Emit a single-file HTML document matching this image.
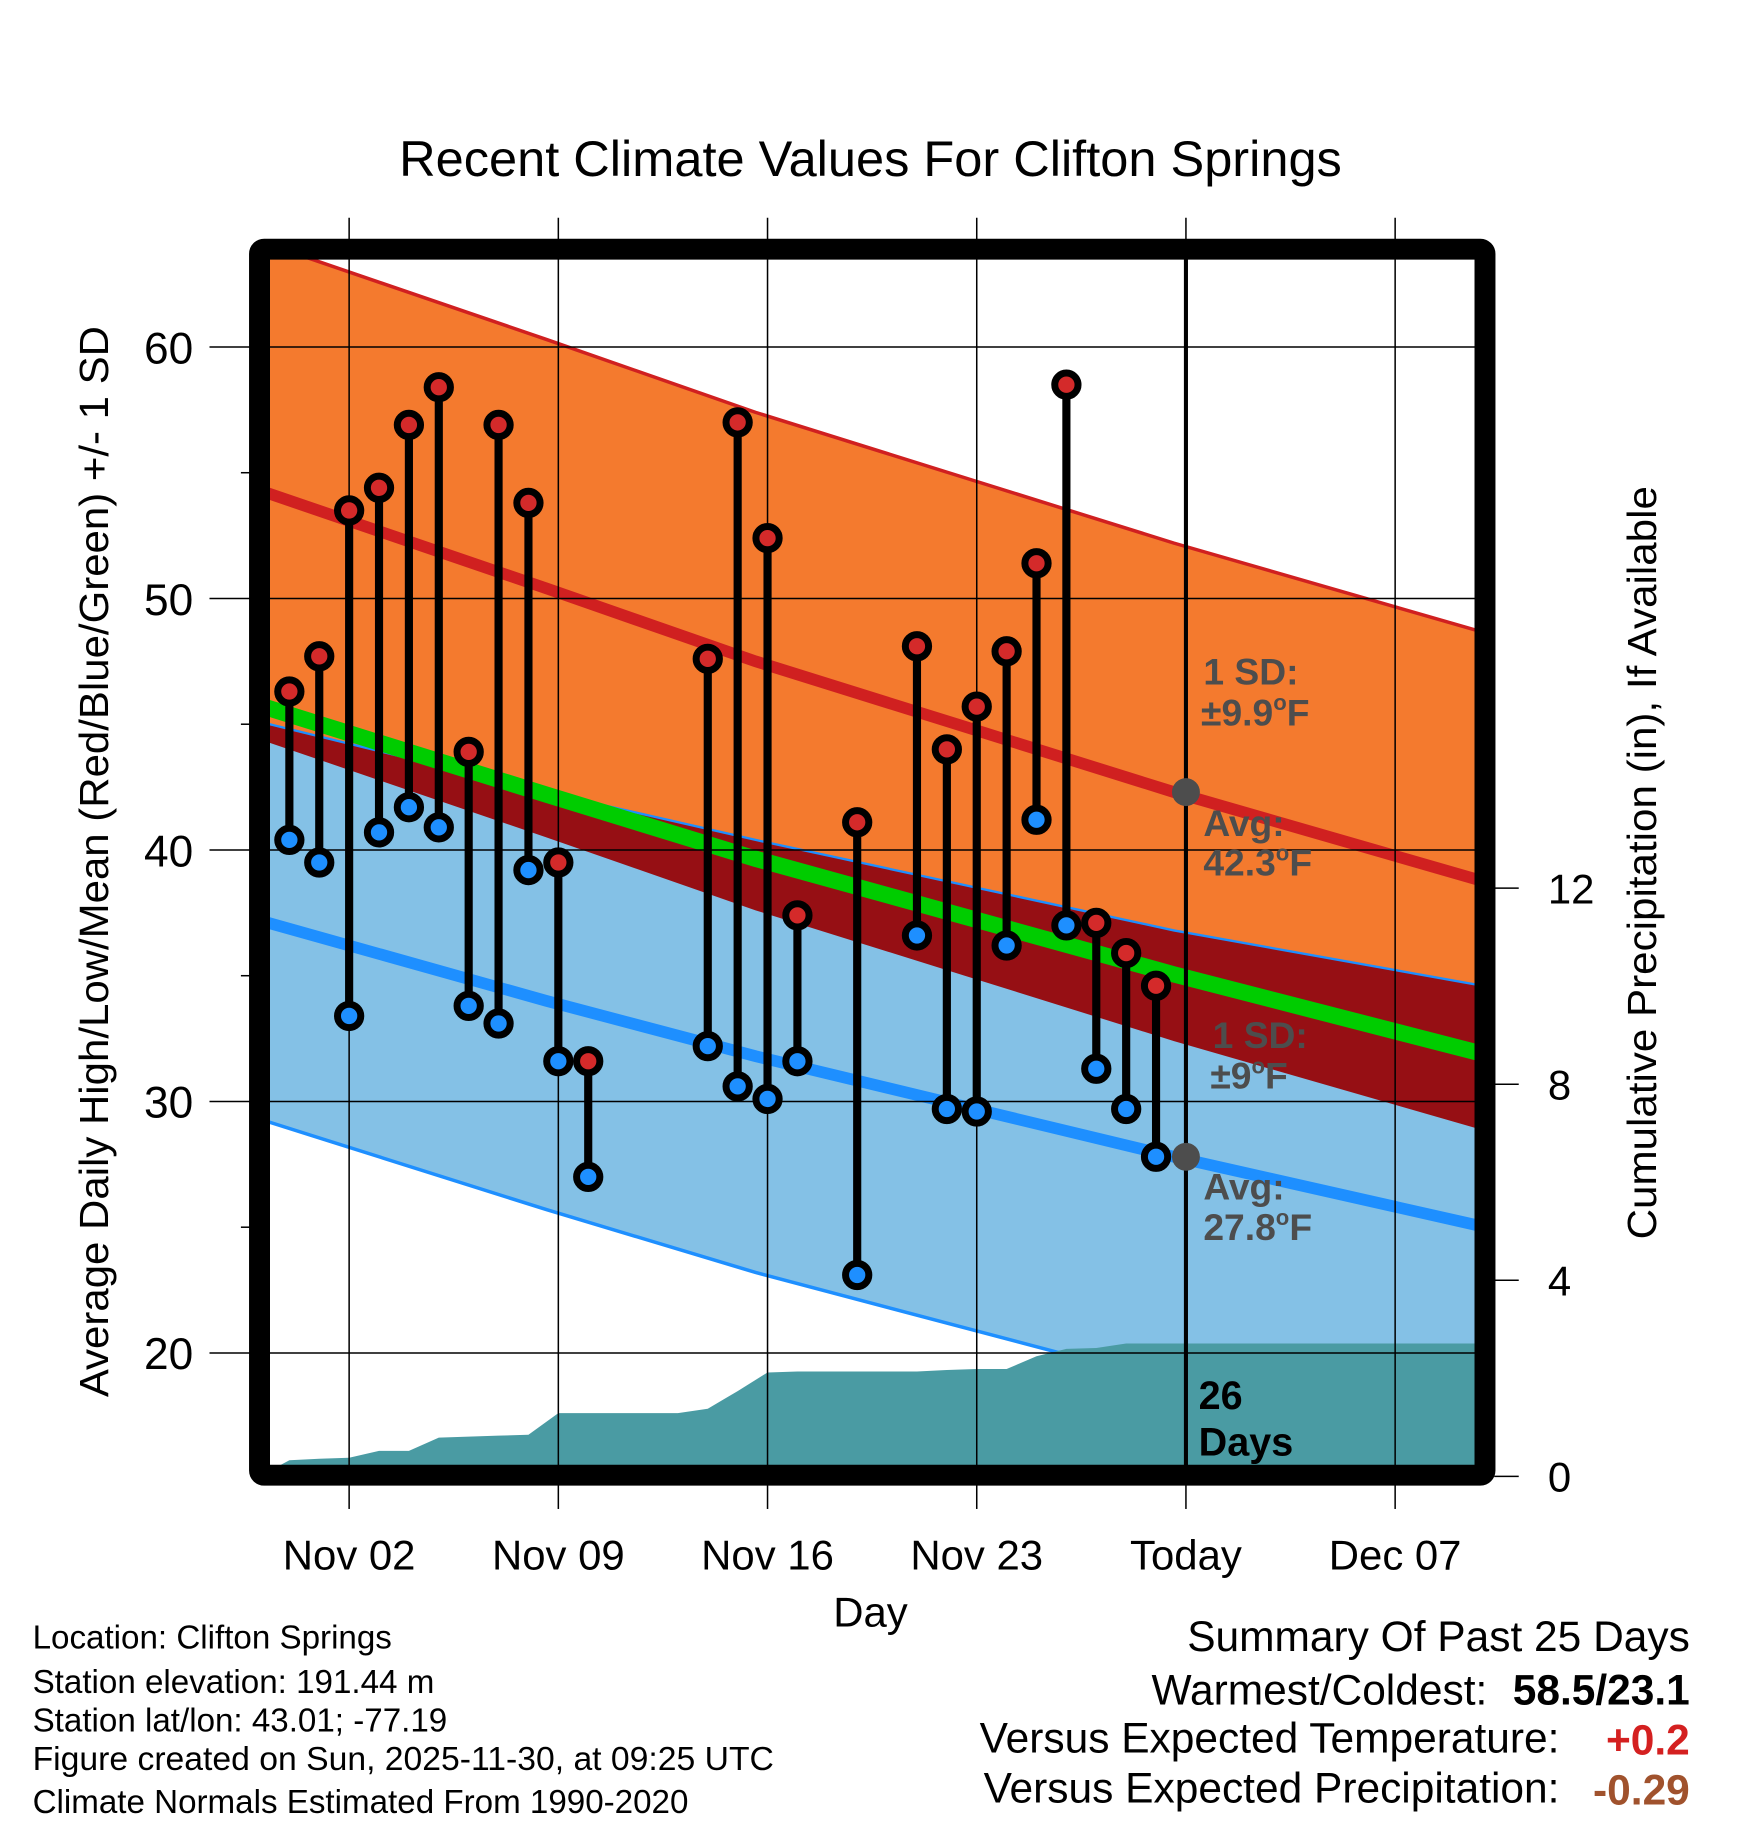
<!DOCTYPE html>
<html><head><meta charset="utf-8"><style>
html,body{margin:0;padding:0;background:#fff;}
svg{display:block;font-family:"Liberation Sans",Arial,sans-serif;}
</style></head><body>
<svg id="chart" width="1748" height="1828" viewBox="0 0 1502 1570" preserveAspectRatio="none" xmlns="http://www.w3.org/2000/svg">
<g id="bands"></g>
<g id="grid"></g>
<g id="marks"></g>
<rect x="223" y="214" width="1053" height="1053" rx="4" fill="none" stroke="#000" stroke-width="18"/>
<g id="axes"></g>
<text x="748" y="151" font-size="43" text-anchor="middle" textLength="810" lengthAdjust="spacingAndGlyphs">Recent Climate Values For Clifton Springs</text>
<text x="748" y="1397" font-size="36" text-anchor="middle">Day</text>
<text transform="translate(93,740) rotate(-90)" font-size="35" text-anchor="middle" textLength="920" lengthAdjust="spacingAndGlyphs">Average Daily High/Low/Mean (Red/Blue/Green) +/- 1 SD</text>
<text transform="translate(1423,741) rotate(-90)" font-size="35" text-anchor="middle" textLength="647" lengthAdjust="spacingAndGlyphs">Cumulative Precipitation (in), If Available</text>
<g font-weight="bold" font-size="32" fill="#4d4d4d">
<text x="1034" y="588">1 SD:</text>
<text x="1032" y="623">±9.9<tspan font-size="19" dy="-13">o</tspan><tspan dy="13">F</tspan></text>
<text x="1034" y="718">Avg:</text>
<text x="1034" y="752">42.3<tspan font-size="19" dy="-13">o</tspan><tspan dy="13">F</tspan></text>
<text x="1042" y="900">1 SD:</text>
<text x="1040" y="935">±9<tspan font-size="19" dy="-13">o</tspan><tspan dy="13">F</tspan></text>
<text x="1034" y="1030">Avg:</text>
<text x="1034" y="1065">27.8<tspan font-size="19" dy="-13">o</tspan><tspan dy="13">F</tspan></text>
</g>
<g font-weight="bold" font-size="34" fill="#000">
<text x="1030" y="1210">26</text>
<text x="1030" y="1250">Days</text>
</g>
<g font-size="28.5">
<text x="28" y="1416">Location: Clifton Springs</text>
<text x="28" y="1454">Station elevation: 191.44 m</text>
<text x="28" y="1487">Station lat/lon: 43.01; -77.19</text>
<text x="28" y="1520" textLength="637" lengthAdjust="spacingAndGlyphs">Figure created on Sun, 2025-11-30, at 09:25 UTC</text>
<text x="28" y="1557">Climate Normals Estimated From 1990-2020</text>
</g>
<g font-size="36.5" text-anchor="end">
<text x="1452" y="1418">Summary Of Past 25 Days</text>
<text x="1278" y="1464">Warmest/Coldest:</text>
<text x="1452" y="1464" font-weight="bold">58.5/23.1</text>
<text x="1340" y="1505">Versus Expected Temperature:</text>
<text x="1452" y="1507" font-weight="bold" fill="#d42020">+0.2</text>
<text x="1340" y="1548">Versus Expected Precipitation:</text>
<text x="1452" y="1550" font-weight="bold" fill="#a0522d">-0.29</text>
</g>
</svg>
<script>
// ---- data ----
const days = [0,1,2,3,4,5,6,7,8,9,10,14,15,16,17,19,21,22,23,24,25,26,27,28,29]; // day of Nov (0 = Oct 31)
const highs = [46.3,47.7,53.5,54.4,56.9,58.4,43.9,56.9,53.8,39.5,31.6,47.6,57.0,52.4,37.4,41.1,48.1,44.0,45.7,47.9,51.4,58.5,37.1,35.9,34.6];
const lows  = [40.4,39.5,33.4,40.7,41.7,40.9,33.8,33.1,39.2,31.6,27.0,32.2,30.6,30.1,31.6,23.1,36.6,29.7,29.6,36.2,41.2,37.0,31.3,29.7,27.8];
const precipDays = [-1,0,1,2,3,4,5,6,7,8,9,10,11,12,13,14,15,16,17,18,19,20,21,22,23,24,25,26,27,28,29,40.4];
const precipCum  = [0,0.33,0.36,0.38,0.52,0.52,0.79,0.81,0.83,0.85,1.29,1.29,1.29,1.29,1.29,1.38,1.74,2.12,2.14,2.14,2.14,2.14,2.14,2.17,2.19,2.19,2.45,2.6,2.62,2.71,2.71,2.71];
const normDays = [-1.0,8.6,15.6,22.6,29.6,40.4];
const normHigh = [54.3,50.4,47.5,44.9,42.3,38.6];
const normLow  = [37.2,34.0,31.8,29.8,27.8,24.9];
const sdHigh = [9.9,9.9,9.9,9.9,9.9,9.9];
const sdLow  = [7.9,8.3,8.6,8.8,9.0,9.6];
const yTicks = [20,30,40,50,60];
const yMinor = [25,35,45,55];
const y2Ticks = [0,4,8,12];
const xTickDays = [2,9,16,23,30,37];
const xTickLabels = ["Nov 02","Nov 09","Nov 16","Nov 23","Today","Dec 07"];
const todayDay = 30;

// ---- scales ----
const PL=232, PR=1268, PT=222, PB=1260;
const xS = d => 300 + (d-2)*25.68;
const yS = v => 298 + (60-v)*21.6;
const y2S = p => 1268 - p*42.1;
const NS='http://www.w3.org/2000/svg';
function mk(tag, attrs, parent){const e=document.createElementNS(NS,tag);for(const k in attrs)e.setAttribute(k,attrs[k]);parent.appendChild(e);return e;}
const bands=document.getElementById('bands'), grid=document.getElementById('grid'), marks=document.getElementById('marks'), axes=document.getElementById('axes');

const defs=mk('defs',{},document.getElementById('chart'));
const cp=mk('clipPath',{id:'pc'},defs); mk('rect',{x:PL,y:PT,width:PR-PL,height:PB-PT},cp);
bands.setAttribute('clip-path','url(#pc)');
marks.setAttribute('clip-path','url(#pc)');

function line(fn){return normDays.map((d,i)=>xS(d)+','+yS(fn(i))).join(' ');}
function band(fa,fb){const a=normDays.map((d,i)=>xS(d)+','+yS(fa(i)));const b=normDays.map((d,i)=>xS(d)+','+yS(fb(i))).reverse();return a.concat(b).join(' ');}

let e;
e=mk('polygon',{points:band(i=>normHigh[i]+sdHigh[i],i=>normHigh[i]-sdHigh[i]),fill:'#f47a2e'},bands);
 
e=mk('polygon',{points:band(i=>normLow[i]+sdLow[i],i=>normLow[i]-sdLow[i]),fill:'#84c1e6'},bands);
 
e=mk('polygon',{points:band(i=>normLow[i]+sdLow[i],i=>normHigh[i]-sdHigh[i]),fill:'#960f14'},bands);
 
e=mk('polyline',{points:line(i=>normHigh[i]+sdHigh[i]),fill:'none',stroke:'#d02020','stroke-width':3},bands);
 
e=mk('polyline',{points:line(i=>normLow[i]+sdLow[i]),fill:'none',stroke:'#1e8fff','stroke-width':2},bands);
 
e=mk('polyline',{points:line(i=>normLow[i]-sdLow[i]),fill:'none',stroke:'#1e8fff','stroke-width':3},bands);
 
e=mk('polyline',{points:line(i=>(normHigh[i]+normLow[i])/2),fill:'none',stroke:'#00cc00','stroke-width':14},bands);
 
e=mk('polyline',{points:line(i=>normHigh[i]),fill:'none',stroke:'#d02020','stroke-width':10},bands);
 
e=mk('polyline',{points:line(i=>normLow[i]),fill:'none',stroke:'#1e8fff','stroke-width':10},bands);
 
const pp=[xS(precipDays[0])+','+y2S(0)].concat(precipDays.map((d,i)=>xS(d)+','+y2S(precipCum[i]))).concat([xS(precipDays[precipDays.length-1])+','+y2S(0)]);
e=mk('polygon',{points:pp.join(' '),fill:'#4a9ba3'},bands);
 

yTicks.forEach(v=>{
 e=mk('line',{x1:180,x2:PR,y1:yS(v),y2:yS(v),stroke:'#000','stroke-width':1.3},grid);
  
 e=mk('text',{x:166,y:yS(v)+14,'font-size':38,'text-anchor':'end'},axes); e.textContent=v;
  
});
yMinor.forEach(v=>{
 e=mk('line',{x1:207,x2:217,y1:yS(v),y2:yS(v),stroke:'#000','stroke-width':1.3},axes);
  
});
xTickDays.forEach((d,i)=>{
 e=mk('line',{x1:xS(d),x2:xS(d),y1:187,y2:PB,stroke:'#000','stroke-width':1.3},grid);
  
 e=mk('line',{x1:xS(d),x2:xS(d),y1:1275,y2:1296,stroke:'#000','stroke-width':1.3},axes);
  
 e=mk('text',{x:xS(d),y:1348,'font-size':36,'text-anchor':'middle'},axes); e.textContent=xTickLabels[i];
  
});
y2Ticks.forEach(p=>{
 e=mk('line',{x1:1284,x2:1305,y1:y2S(p),y2:y2S(p),stroke:'#000','stroke-width':1.3},axes);
  
 e=mk('text',{x:1330,y:y2S(p)+13,'font-size':36},axes); e.textContent=p;
  
});

e=mk('line',{x1:xS(todayDay),x2:xS(todayDay),y1:PT,y2:PB,stroke:'#000','stroke-width':3.5},marks);
 

days.forEach((d,i)=>{
 e=mk('line',{x1:xS(d),x2:xS(d),y1:yS(highs[i]),y2:yS(lows[i]),stroke:'#000','stroke-width':7},marks);
  
});
days.forEach((d,i)=>{
 e=mk('circle',{cx:xS(d),cy:yS(highs[i]),r:10,fill:'#d42a2a',stroke:'#000','stroke-width':6},marks);
  
 e=mk('circle',{cx:xS(d),cy:yS(lows[i]),r:10,fill:'#1e8fff',stroke:'#000','stroke-width':6},marks);
  
});
e=mk('circle',{cx:xS(todayDay),cy:yS(normHigh[4]),r:12,fill:'#4d4d4d'},marks);
 
e=mk('circle',{cx:xS(todayDay),cy:yS(normLow[4]),r:12,fill:'#4d4d4d'},marks);
 
</script>
</body></html>
